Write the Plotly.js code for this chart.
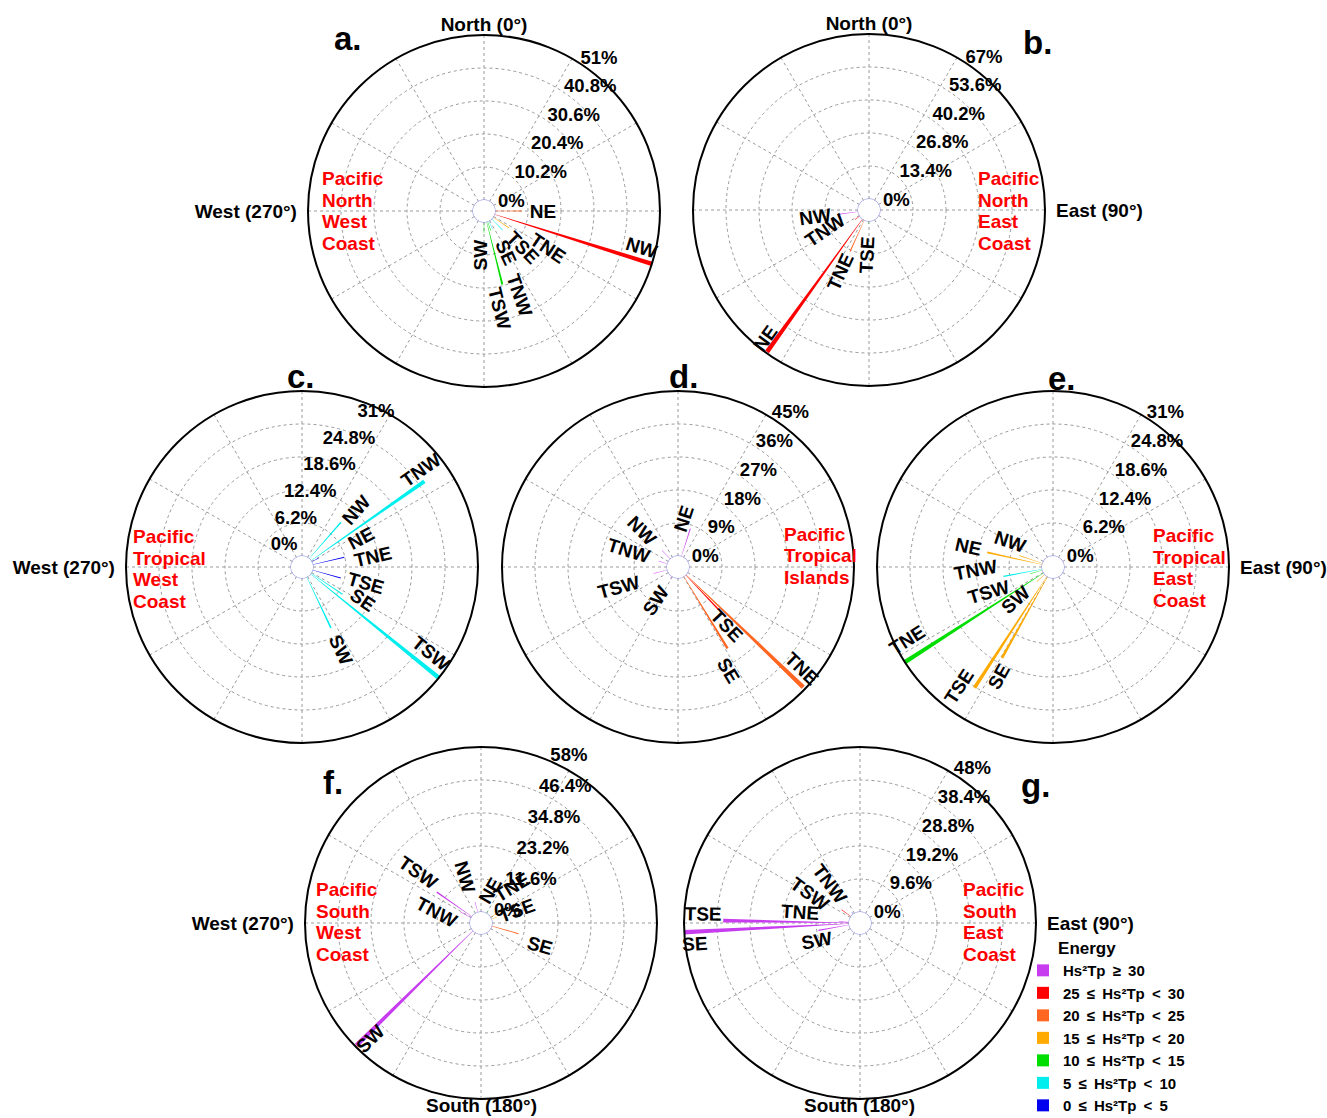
<!DOCTYPE html>
<html><head><meta charset="utf-8">
<script src="https://cdn.plot.ly/plotly-3.0.1.min.js"></script>
<style>html,body{margin:0;padding:0;background:#fff;}#chart{width:1327px;height:1118px;}</style>
</head><body><div id="chart"></div>
<script>
// ---------- energy classes ----------
const SP = '\u00a0\u2009';
const ENERGY_NAMES = ['Hs²Tp'+SP+'≥'+SP+'30','25'+SP+'≤'+SP+'Hs²Tp'+SP+'<'+SP+'30','20'+SP+'≤'+SP+'Hs²Tp'+SP+'<'+SP+'25','15'+SP+'≤'+SP+'Hs²Tp'+SP+'<'+SP+'20','10'+SP+'≤'+SP+'Hs²Tp'+SP+'<'+SP+'15','5'+SP+'≤'+SP+'Hs²Tp'+SP+'<'+SP+'10','0'+SP+'≤'+SP+'Hs²Tp'+SP+'<'+SP+'5'];
const ENERGY_COLORS = ['#c83cf0','#ff0000','#ff6622','#ffaa00','#00dd00','#00eeee','#0000ee'];

// ---------- panel a: Pacific North West Coast ----------
const A_DIR   = ['NE','NW','TNE','TSE','SE','TNW','TSW','SW'];
const A_THETA = [90,107.5,124,136,155,161,166,180];
const A_PCT   = [8.3,51,5.9,4.8,2.8,3,20,3.3];
const A_CLASS = [2,1,3,5,5,4,4,4];
const A_LBL_THETA = [90,103,120,133,151.6,157,170.8,185.6];
const A_LBL_R     = [14.8,46.6,19.5,13.1,11.1,24.8,27.1,10.3];
const A_TICKS = [0,10.2,20.4,30.6,40.8,51];

// ---------- panel b: Pacific North East Coast ----------
const B_DIR   = ['NE','TNE','TNW','NW','TSE'];
const B_THETA = [215.7,204.5,236,262,183];
const B_PCT   = [66.5,14.1,2.4,8.1,1.2];
const B_CLASS = [1,2,1,0,4];
const B_LBL_THETA = [219,205,245.6,263,183];
const B_LBL_R     = [62.5,23.2,15.2,17.6,13.8];
const B_TICKS = [0,13.4,26.8,40.2,53.6,67];

// ---------- panel c: Pacific Tropical West Coast ----------
const C_DIR   = ['TNW','NW','NE','TNE','TSE','SE','TSW','SW'];
const C_THETA = [55,41,62,77,106,124,129,154.6];
const C_PCT   = [26,9.1,1.5,6.1,5.5,7.1,31,10.6];
const C_CLASS = [5,5,6,6,6,5,5,5];
const C_LBL_THETA = [50.7,43.3,63.8,81.5,104,118.3,123.7,154.7];
const C_LBL_R     = [26.8,12.7,10.3,11.4,10.3,10.9,27.1,15.1];
const C_TICKS = [0,6.2,12.4,18.6,24.8,31];

// ---------- panel d: Pacific Tropical Islands ----------
const D_DIR   = ['TNE','SE','TSE','NE','NW','TNW','TSW','SW'];
const D_THETA = [133.8,148.7,136.4,17.8,316,287,255,213.6];
const D_PCT   = [44.3,23,13.1,8,3.3,2.5,3.9,0.8];
const D_CLASS = [2,2,1,0,0,0,0,0];
const D_LBL_THETA = [129.3,153.9,140,6.6,315.5,288.7,251.4,214];
const D_LBL_R     = [40.7,28.4,17.8,10.3,11.0,11.2,14.1,8.0];
const D_TICKS = [0,9,18,27,36,45];

// ---------- panel e: Pacific Tropical East Coast ----------
const E_DIR   = ['TNE','TSE','SE','NE','NW','TNW','TSW','SW'];
const E_THETA = [237.3,213,209.3,282.5,288.7,259.2,253.6,228];
const E_PCT   = [31,25,17.5,10.6,4.6,7.4,2.4,2];
const E_CLASS = [4,3,3,3,3,5,4,3];
const E_LBL_THETA = [243.5,218.3,206.4,283.7,301,268,249,229];
const E_LBL_R     = [28.6,26.5,20.9,14.3,7.3,12.5,10.9,7.3];
const E_TICKS = [0,6.2,12.4,18.6,24.8,31];

// ---------- panel f: Pacific South West Coast ----------
const F_DIR   = ['SW','TSW','TNW','NW','NE','TNE','TSE','SE'];
const F_THETA = [225.5,305,298,344,30,58.5,70,105.9];
const F_PCT   = [57.5,15.1,4.3,3.8,1.3,4.7,2,9.8];
const F_CLASS = [0,0,0,0,4,3,3,2];
const F_LBL_THETA = [223.8,309,284,341,15.4,40.5,70.4,110.7];
const F_LBL_R     = [52.5,24.5,12.2,13.3,8.0,12.8,9.5,18.3];
const F_TICKS = [0,11.6,23.2,34.8,46.4,58];

// ---------- panel g: Pacific South East Coast ----------
const G_DIR   = ['SE','TSE','SW','TNE','TSW','TNW'];
const G_THETA = [267,271,260,274,306,323];
const G_PCT   = [48,36.6,9.1,3,3.4,0.8];
const G_CLASS = [0,0,0,0,1,6];
const G_LBL_THETA = [262.9,273.4,248.2,280.4,300.5,322.7];
const G_LBL_R     = [45.2,42.5,10.4,14.5,13.7,11.2];
const G_TICKS = [0,9.6,19.2,28.8,38.4,48];

// compass spokes and names
const SPOKES = [0,30,60,90,120,150,180,210,240,270,300,330];
const COMPASS = {0:'North (0°)',90:'\u00a0\u00a0East (90°)',180:'South (180°)',270:'West (270°)\u00a0\u00a0'};
const HOLE_RING = [0,15,30,45,60,75,90,105,120,135,150,165,180,195,210,225,240,255,270,285,300,315,330,345,360];

// ---------- layout constants ----------
const W = 1327, H = 1118, R = 176;
const FONT = 'Liberation Sans, Arial, Helvetica, sans-serif';
const LINE_GAP = 21.7;
const TICK_LIFT = 9;

const PANELS = [
  {dir:A_DIR,theta:A_THETA,pct:A_PCT,cls:A_CLASS,lt:A_LBL_THETA,lr:A_LBL_R,ticks:A_TICKS,cx:484,cy:211,rang:60,rside:'clockwise',show:[0,270],south:false,letter:'a.',lx:348,ly:38,region:['Pacific','North','West','Coast'],rx:320,ry:211},
  {dir:B_DIR,theta:B_THETA,pct:B_PCT,cls:B_CLASS,lt:B_LBL_THETA,lr:B_LBL_R,ticks:B_TICKS,cx:869,cy:210,rang:60,rside:'clockwise',show:[0,90],south:false,letter:'b.',lx:1037,ly:42,region:['Pacific','North','East','Coast'],rx:976,ry:211},
  {dir:C_DIR,theta:C_THETA,pct:C_PCT,cls:C_CLASS,lt:C_LBL_THETA,lr:C_LBL_R,ticks:C_TICKS,cx:302,cy:567,rang:54,rside:'counterclockwise',show:[270],south:false,letter:'c.',lx:301,ly:377,region:['Pacific','Tropical','West','Coast'],rx:131,ry:569},
  {dir:D_DIR,theta:D_THETA,pct:D_PCT,cls:D_CLASS,lt:D_LBL_THETA,lr:D_LBL_R,ticks:D_TICKS,cx:678,cy:567,rang:61,rside:'clockwise',show:[],south:false,letter:'d.',lx:683,ly:377,region:['Pacific','Tropical','Islands'],rx:782,ry:556},
  {dir:E_DIR,theta:E_THETA,pct:E_PCT,cls:E_CLASS,lt:E_LBL_THETA,lr:E_LBL_R,ticks:E_TICKS,cx:1053,cy:567,rang:61,rside:'clockwise',show:[90],south:false,letter:'e.',lx:1062,ly:378,region:['Pacific','Tropical','East','Coast'],rx:1151,ry:568},
  {dir:F_DIR,theta:F_THETA,pct:F_PCT,cls:F_CLASS,lt:F_LBL_THETA,lr:F_LBL_R,ticks:F_TICKS,cx:481,cy:923,rang:70,rside:'clockwise',show:[270],south:true,letter:'f.',lx:333,ly:782,region:['Pacific','South','West','Coast'],rx:314,ry:922},
  {dir:G_DIR,theta:G_THETA,pct:G_PCT,cls:G_CLASS,lt:G_LBL_THETA,lr:G_LBL_R,ticks:G_TICKS,cx:860,cy:923,rang:61,rside:'clockwise',show:[90],south:true,letter:'g.',lx:1035,ly:785,region:['Pacific','South','East','Coast'],rx:961,ry:922}
];

function rotOf(t){ return t < 180 ? t - 90 : t - 270; }

const traces = [];
const layout = {
  width: W, height: H,
  margin: {l:0,r:0,t:0,b:0,autoexpand:false},
  paper_bgcolor: '#fff',
  showlegend: true,
  legend: {
    x: 1023/W, y: 1 - 932/H, xanchor:'left', yanchor:'top',
    bgcolor:'rgba(0,0,0,0)', itemwidth:30, tracegroupgap:0,
    font:{family:FONT,size:15,color:'#000',weight:'bold'},
    title:{text:'\u00a0\u00a0\u00a0\u00a0\u00a0\u00a0\u00a0Energy', font:{family:FONT,size:17,color:'#000',weight:'bold'}}
  },
  annotations: [],
  shapes: []
};

const seen = {};
PANELS.forEach(function(p, k){
  const pid = k === 0 ? 'polar' : 'polar' + (k+1);
  const rmax = p.ticks[p.ticks.length-1];
  layout[pid] = {
    domain: {x:[(p.cx-R)/W,(p.cx+R)/W], y:[(H-p.cy-R)/H,(H-p.cy+R)/H]},
    hole: 11/R,
    bgcolor: 'rgba(0,0,0,0)',
    barmode: 'overlay',
    radialaxis: {
      range:[0,rmax], tickmode:'array', tickvals:p.ticks, ticktext:p.ticks.map(v=>v+'%'),
      angle:p.rang, side:p.rside, tickangle:p.rang, showline:false, ticks:'',
      gridcolor:'#9a9a9a', griddash:'dot', gridwidth:1,
      tickfont:{family:FONT,size:18.5,color:'#000',weight:'bold'}
    },
    angularaxis: {
      rotation:90, direction:'clockwise', tickmode:'array', tickvals:SPOKES,
      ticktext: SPOKES.map(s => p.show.indexOf(s) >= 0 ? COMPASS[s] : ''),
      showline:false, ticks:'',
      gridcolor:'#9a9a9a', griddash:'dot', gridwidth:1,
      tickfont:{family:FONT,size:19,color:'#000',weight:'bold'}
    }
  };
  // outer frame circle
  layout.shapes.push({type:'circle', xref:'paper', yref:'paper',
    x0:(p.cx-R)/W, x1:(p.cx+R)/W, y0:(H-p.cy-R)/H, y1:(H-p.cy+R)/H,
    line:{color:'#000', width:2}, layer:'above'});
  // bars grouped by energy class
  for (let c = 0; c < ENERGY_NAMES.length; c++) {
    const idx = p.cls.map((v,i)=> v===c ? i : -1).filter(i=>i>=0);
    if (!idx.length) continue;
    traces.push({
      type:'barpolar', subplot:pid,
      r: idx.map(i=>p.pct[i]), theta: idx.map(i=>p.theta[i]),
      width: 1.5,
      marker:{color:ENERGY_COLORS[c], line:{width:0}},
      name: ENERGY_NAMES[c], legendgroup:'e'+c, legendrank: c+1,
      showlegend: !seen[c], hoverinfo:'skip'
    });
    seen[c] = true;
  }
  // hole outline
  traces.push({
    type:'scatterpolar', subplot:pid, mode:'lines',
    r: HOLE_RING.map(()=>0), theta: HOLE_RING,
    line:{color:'#9c9ce6', width:1.3}, cliponaxis:false, showlegend:false, hoverinfo:'skip'
  });
  // direction labels
  traces.push({
    type:'scatterpolar', subplot:pid, mode:'text',
    r: p.lr, theta: p.lt, text: p.dir,
    customdata: p.theta.map(rotOf),
    textposition:'middle center',
    textfont:{family:FONT,size:19,color:'#000',weight:'bold'},
    cliponaxis:false, showlegend:false, hoverinfo:'skip', name:'lbl'+k
  });
  layout.annotations.push({
    xref:'paper', yref:'paper', x:p.lx/W, y:1-p.ly/H, xanchor:'center', yanchor:'middle',
    text:p.letter, showarrow:false, font:{family:FONT,size:33,color:'#000',weight:'bold'}
  });
  if (p.south) {
    layout.annotations.push({
      xref:'paper', yref:'paper', x:p.cx/W, y:0, xanchor:'center', yanchor:'bottom',
      text:COMPASS[180], showarrow:false, font:{family:FONT,size:19,color:'#000',weight:'bold'}
    });
  }
  const n = p.region.length;
  p.region.forEach(function(word, i){
    layout.annotations.push({
      xref:'paper', yref:'paper', x:p.rx/W, y:1-(p.ry + (i-(n-1)/2)*LINE_GAP)/H,
      xanchor:'left', yanchor:'middle', align:'left',
      text:word, showarrow:false, font:{family:FONT,size:19,color:'#ff0000',weight:'bold'}
    });
  });
});

const gd = document.getElementById('chart');
Plotly.newPlot(gd, traces, layout, {staticPlot:true, displayModeBar:false}).then(function(){
  // rotate the direction labels along their bars
  gd.querySelectorAll('g.trace.scatter').forEach(function(g){
    const cd = g.__data__;
    if (!cd || !cd[0] || !cd[0].trace) return;
    const tr = cd[0].trace;
    if (!tr.name || tr.name.indexOf('lbl') !== 0) return;
    const rots = tr.customdata;
    g.querySelectorAll('g.textpoint').forEach(function(tp, j){
      const t = tp.querySelector('text');
      if (!t) return;
      const x = +t.getAttribute('x'), y = +t.getAttribute('y');
      tp.setAttribute('transform', 'translate(' + x + ',' + y + ') rotate(' + rots[j] + ')');
      t.setAttribute('x', 0); t.setAttribute('y', 0);
      t.setAttribute('text-anchor', 'middle');
      t.setAttribute('dy', '0.36em');
    });
  });
  // lift the radial tick labels slightly (screen-vertical)
  gd.querySelectorAll('.radial-axis text').forEach(function(t){
    try {
      const m = t.getCTM();
      if (!m) return;
      const det = m.a * m.d - m.b * m.c;
      if (!det) return;
      const lx = (TICK_LIFT * m.c) / det, ly = (-TICK_LIFT * m.a) / det;
      const prev = t.getAttribute('transform') || '';
      t.setAttribute('transform', prev + ' translate(' + lx + ',' + ly + ')');
    } catch (e) {}
  });
});
</script>
</body></html>
